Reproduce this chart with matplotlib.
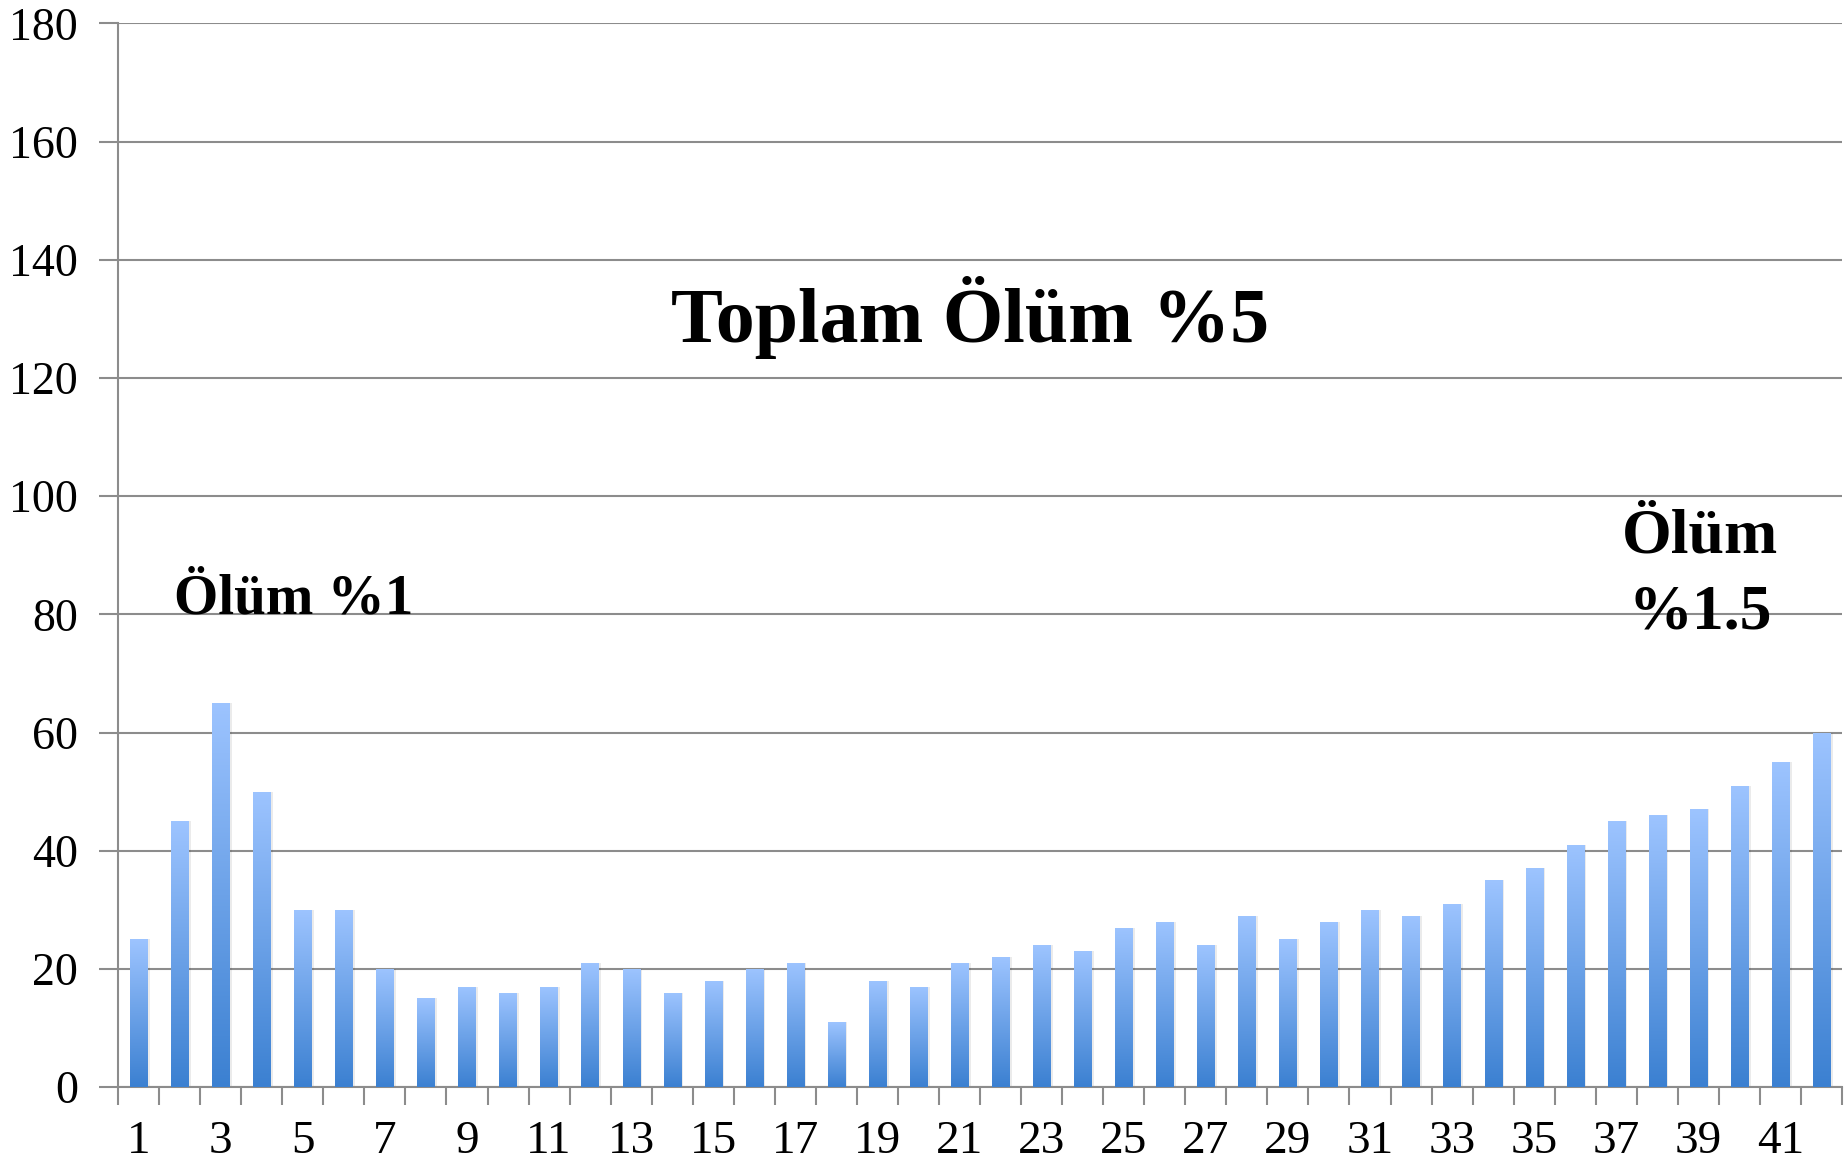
import numpy as np
import matplotlib
matplotlib.use('Agg')
from matplotlib import pyplot as plt
from matplotlib.colors import LinearSegmentedColormap

# daily deaths per day (1..42)
days = list(range(1, 43))
deaths = [25, 45, 65, 50, 30, 30, 20, 15, 17, 16, 17, 21, 20, 16, 18, 20, 21, 11,
          18, 17, 21, 22, 24, 23, 27, 28, 24, 29, 25, 28, 30, 29, 31, 35, 37, 41,
          45, 46, 47, 51, 55, 60]
y_ticks = [0, 20, 40, 60, 80, 100, 120, 140, 160, 180]

plt.rcParams['font.family'] = ['Liberation Serif', 'DejaVu Serif']

fig = plt.figure(figsize=(18.45, 11.68), dpi=100)
ax = fig.add_axes([0.064, 0.0693, 0.9344, 0.9106])

grey = '#8c8c8c'
x = np.arange(len(days))
bars = ax.bar(x, deaths, width=0.42, color='none', zorder=3)

# vertical gradient inside each bar: light on top, darker at the bottom
cmap = LinearSegmentedColormap.from_list('blu', ['#3b80d1', '#9dc4ff'])
grad = np.linspace(0, 1, 256).reshape(-1, 1)
for b in bars:
    x0, w, h = b.get_x(), b.get_width(), b.get_height()
    # faint shadow on the right
    ax.bar(x0 + w / 2 + 0.06, h, width=w, color='#000000', alpha=0.08, zorder=2)
    im = ax.imshow(grad, cmap=cmap, origin='lower', aspect='auto',
                   extent=[x0, x0 + w, 0, h], zorder=3)
    im.set_clip_path(b)

ax.set_xlim(-0.5, len(days) - 0.5)
ax.set_ylim(0, 180)
ax.set_yticks(y_ticks)
ax.yaxis.grid(True, color=grey, linewidth=1.5, zorder=1)
ax.set_axisbelow(True)

# major ticks on category borders, labels on every other category centre
ax.set_xticks(np.arange(-0.5, len(days), 1.0))
ax.set_xticklabels([])
ax.set_xticks(x[::2], minor=True)
ax.set_xticklabels([str(d) for d in days[::2]], minor=True)
ax.tick_params(axis='x', which='major', length=13, width=1.5, color=grey, direction='out')
ax.tick_params(axis='x', which='minor', length=0, pad=24, labelsize=34)
ax.tick_params(axis='y', length=14, width=1.5, color=grey, pad=15, labelsize=33)

for s in ['top', 'right']:
    ax.spines[s].set_visible(False)
ax.spines['left'].set_color(grey)
ax.spines['bottom'].set_color(grey)
ax.spines['left'].set_linewidth(1.5)
ax.spines['bottom'].set_linewidth(1.5)

ax.text(0.526, 0.707, 'Toplam Ölüm %5', transform=fig.transFigure, ha='center',
        va='baseline', fontsize=56, fontweight='bold')
ax.text(0.1594, 0.475, 'Ölüm %1', transform=fig.transFigure, ha='center',
        va='baseline', fontsize=41, fontweight='bold')
ax.text(0.9216, 0.527, 'Ölüm', transform=fig.transFigure, ha='center',
        va='baseline', fontsize=46, fontweight='bold')
ax.text(0.9216, 0.462, '%1.5', transform=fig.transFigure, ha='center',
        va='baseline', fontsize=46, fontweight='bold')

plt.savefig('out.png', dpi=100)
